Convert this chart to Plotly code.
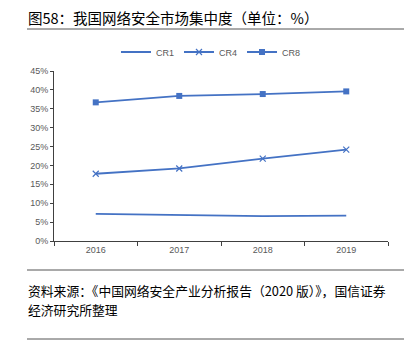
import plotly.graph_objects as go

years = ["2016", "2017", "2018", "2019"]
cr1 = [7.2, 7.0, 6.6, 6.7]
cr4 = [17.8, 19.2, 21.8, 24.2]
cr8 = [36.7, 38.4, 38.9, 39.6]
yticks = [0, 5, 10, 15, 20, 25, 30, 35, 40, 45]
ytick_text = [f"{v}%" for v in yticks]

blue = "#4472C4"
fig = go.Figure()
fig.add_trace(go.Scatter(x=years, y=cr1, name="CR1", mode="lines",
                         line=dict(color=blue, width=1.8)))
fig.add_trace(go.Scatter(x=years, y=cr4, name="CR4", mode="lines+markers",
                         line=dict(color=blue, width=1.8),
                         marker=dict(symbol="x-thin", size=6, line=dict(color=blue, width=1.2), color=blue)))
fig.add_trace(go.Scatter(x=years, y=cr8, name="CR8", mode="lines+markers",
                         line=dict(color=blue, width=1.8),
                         marker=dict(symbol="square", size=6, color=blue)))

cjk = "Noto Sans CJK SC"
L, W, T, H = 54, 334, 71, 170
def px(x):
    return (x - L) / W
def py(y):
    return (T + H - y) / H

fig.update_layout(
    width=413, height=352,
    margin=dict(l=54, r=25, t=71, b=111, autoexpand=False),
    paper_bgcolor="white", plot_bgcolor="white",
    font=dict(family="Liberation Sans, Arial", size=9, color="#595959"),
    legend=dict(orientation="h", x=0.47, xanchor="center", y=1 - 52 / 352, yref="container",
                yanchor="middle", font=dict(size=9, color="#595959"),
                itemwidth=30, tracegroupgap=0, bgcolor="rgba(0,0,0,0)"),
    xaxis=dict(type="category", range=[-0.5, 3.5], showline=True, linecolor="#404040", linewidth=1,
               ticks="outside", ticklen=4, tickcolor="#404040", tickson="boundaries",
               showgrid=False, tickfont=dict(size=9, color="#595959"), fixedrange=True),
    yaxis=dict(range=[0, 45], tickvals=yticks, ticktext=ytick_text,
               showline=True, linecolor="#404040", linewidth=1,
               ticks="outside", ticklen=3, tickcolor="#404040",
               showgrid=False, zeroline=False, tickfont=dict(size=9, color="#595959"),
               fixedrange=True),
    annotations=[
        dict(text="图58：我国网络安全市场集中度（单位：%）", xref="paper", yref="paper",
             x=px(26), y=py(17), xanchor="left", yanchor="middle",
             showarrow=False, font=dict(family=cjk, size=14.5, color="#000000")),
        dict(text="资料来源：《中国网络安全产业分析报告（2020 版）》，国信证券",
             xref="paper", yref="paper", x=px(26), y=py(290),
             xanchor="left", yanchor="middle", align="left", showarrow=False,
             font=dict(family=cjk, size=12.8, color="#000000")),
        dict(text="经济研究所整理",
             xref="paper", yref="paper", x=px(26), y=py(309),
             xanchor="left", yanchor="middle", align="left", showarrow=False,
             font=dict(family=cjk, size=12.8, color="#000000")),
    ],
    shapes=[
        dict(type="line", xref="paper", yref="paper", x0=px(27), x1=px(404),
             y0=py(29), y1=py(29), line=dict(color="#555555", width=1)),
        dict(type="line", xref="paper", yref="paper", x0=px(27), x1=px(404),
             y0=py(270), y1=py(270), line=dict(color="#555555", width=1)),
        dict(type="line", xref="paper", yref="paper", x0=px(27), x1=px(404),
             y0=py(339), y1=py(339), line=dict(color="#555555", width=1)),
    ],
)
fig.write_html("out.html")
